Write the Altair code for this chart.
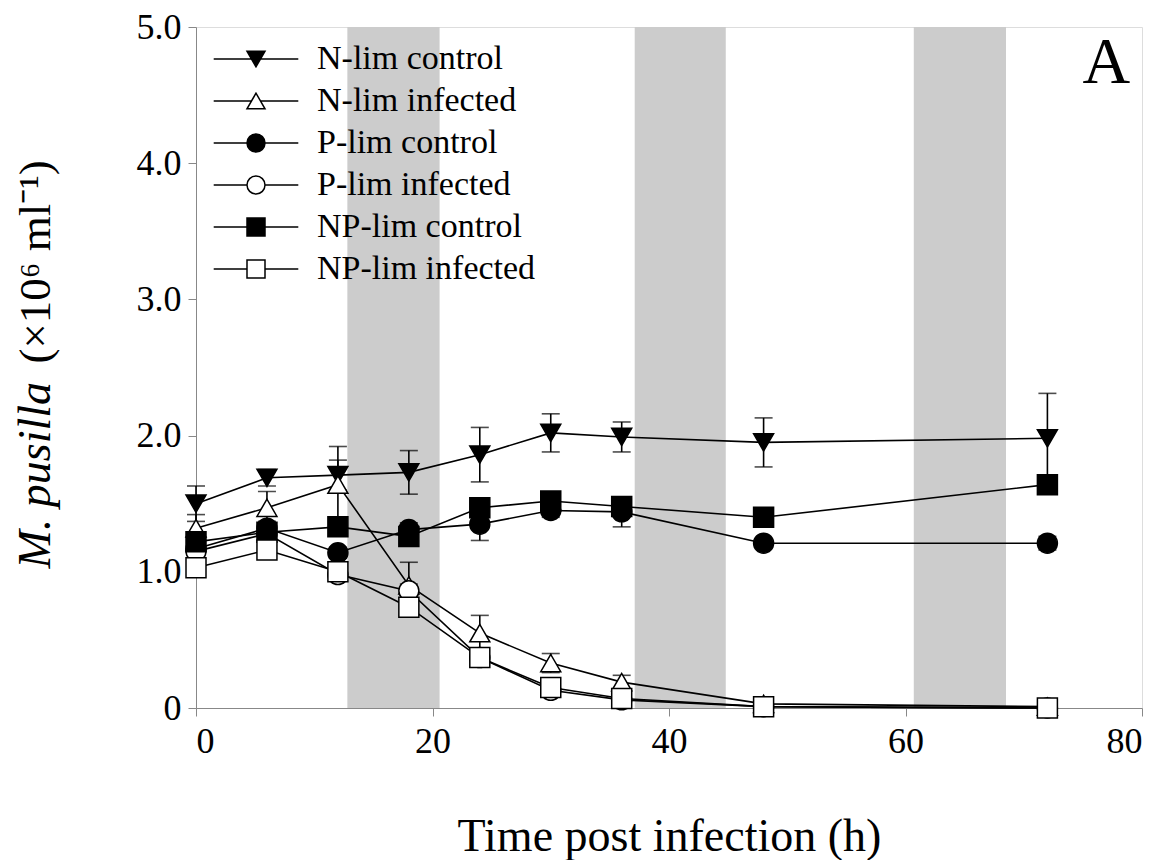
import altair as alt
import pandas as pd

# ---- data ----
times = [0, 6, 12, 18, 24, 30, 36, 48, 72]
series_names = ["N-lim control", "N-lim infected", "P-lim control",
                "P-lim infected", "NP-lim control", "NP-lim infected"]

n_ctrl = [1.50, 1.69, 1.71, 1.73, 1.86, 2.02, 1.99, 1.95, 1.98]
n_ctrl_err = [0.13, 0.06, 0.11, 0.16, 0.20, 0.14, 0.11, 0.18, 0.33]
n_inf = [1.32, 1.47, 1.64, 0.90, 0.55, 0.33, 0.19, 0.03, 0.01]
n_inf_err = [0.10, 0.12, 0.28, 0.17, 0.13, 0.07, 0.05, 0.01, 0.01]
p_ctrl = [1.17, 1.32, 1.14, 1.31, 1.35, 1.45, 1.44, 1.21, 1.21]
p_ctrl_err = [0.04, 0.05, 0.04, 0.05, 0.12, 0.05, 0.11, 0.03, 0.05]
p_inf = [1.15, 1.28, 0.98, 0.86, 0.37, 0.13, 0.06, 0.01, 0.00]
p_inf_err = [0.03, 0.05, 0.03, 0.05, 0.03, 0.02, 0.01, 0.00, 0.00]
np_ctrl = [1.22, 1.29, 1.33, 1.26, 1.47, 1.52, 1.48, 1.40, 1.64]
np_ctrl_err = [0.03, 0.04, 0.03, 0.04, 0.03, 0.03, 0.05, 0.02, 0.03]
np_inf = [1.03, 1.16, 1.00, 0.74, 0.37, 0.15, 0.07, 0.01, 0.00]
np_inf_err = [0.03, 0.06, 0.04, 0.03, 0.03, 0.02, 0.02, 0.00, 0.00]

dark_start = [12.8, 37.1, 60.7]
dark_end = [20.6, 44.8, 68.5]

panel_label = ["A"]

# ---- styling ----
plot_shapes = ["triangle-down", "triangle-up", "circle", "circle", "square", "square"]
plot_sizes = [400, 400, 330, 330, 290, 290]
fills = ["black", "white", "black", "white", "black", "white"]
legend_paths = [
    "M-4.7,0L4.7,0M0,0.866L-1,-0.866L1,-0.866Z",
    "M-4.7,0L-0.5,0M0.5,0L4.7,0M0,-0.866L-1,0.866L1,0.866Z",
    "M-4.7,0L-1,0M1,0L4.7,0M1,0A1,1,0,1,1,-1,0A1,1,0,1,1,1,0Z",
    "M-4.7,0L-1,0M1,0L4.7,0M1,0A1,1,0,1,1,-1,0A1,1,0,1,1,1,0Z",
    "M-4.7,0L-1,0M1,0L4.7,0M-1,-1L1,-1L1,1L-1,1Z",
    "M-4.7,0L-1,0M1,0L4.7,0M-1,-1L1,-1L1,1L-1,1Z",
]

vals = [n_ctrl, n_inf, p_ctrl, p_inf, np_ctrl, np_inf]
errs = [n_ctrl_err, n_inf_err, p_ctrl_err, p_inf_err, np_ctrl_err, np_inf_err]
rows = []
for name, v, e in zip(series_names, vals, errs):
    for t, y, s in zip(times, v, e):
        rows.append({"series": name, "label": name, "t": t, "y": y,
                     "lo": y - s, "hi": y + s, "err": s})
df = pd.DataFrame(rows)
bands = pd.DataFrame({"start": dark_start, "end": dark_end})
panel_df = pd.DataFrame({"panel": panel_label})

FONT = "Liberation Serif"
W, H = 946, 681

xscale = alt.Scale(domain=[0, 80], nice=False)
yscale = alt.Scale(domain=[0, 5], nice=False)

x_axis = alt.Axis(values=[0, 20, 40, 60, 80], title="Time post infection (h)",
                  titleFontSize=46, titleFont=FONT, titleFontWeight="normal",
                  titleY=142, titleBaseline="alphabetic",
                  labelFontSize=36, labelFont=FONT, labelPadding=8,
                  tickSize=8, grid=False)
y_axis_main = alt.Axis(values=[0, 1, 2, 3, 4, 5],
                       labelExpr="datum.value == 0 ? '0' : format(datum.value, '.1f')",
                       labelFontSize=36, labelFont=FONT, labelPadding=7,
                       tickSize=8, grid=False,
                       title="M. pusilla", titleFont=FONT, titleFontSize=46,
                       titleFontStyle="italic", titleFontWeight="normal",
                       titleAngle=270, titleAlign="left", titleBaseline="alphabetic",
                       titleX=-147, titleY=541)
y_axis_unit = alt.Axis(orient="right", labels=False, ticks=False, domain=False, grid=False,
                       title="(×10⁶ ml⁻¹)", titleFont=FONT, titleFontSize=45,
                       titleFontWeight="normal", titleAngle=270, titleAlign="left",
                       titleBaseline="alphabetic", titleX=-147 - W, titleY=336)

X = alt.X("t:Q", scale=xscale, axis=x_axis)

band_layer = alt.Chart(bands).mark_rect(color="#cccccc").encode(
    x=alt.X("start:Q", scale=xscale, axis=x_axis),
    x2="end:Q",
    y=alt.Y(datum=0, scale=yscale, axis=None),
    y2=alt.Y2(datum=5),
)

line_layer = alt.Chart(df).mark_line(color="black", strokeWidth=1.6).encode(
    x=X,
    y=alt.Y("y:Q", scale=yscale, axis=y_axis_main),
    detail="series:N",
)

err_df = df[df["err"] > 0]
rule_layer = alt.Chart(err_df).mark_rule(color="black", strokeWidth=1.6).encode(
    x=X,
    y=alt.Y("lo:Q", scale=yscale, axis=y_axis_unit),
    y2="hi:Q",
)
cap_lo = alt.Chart(err_df).mark_tick(color="black", orient="horizontal",
                                     size=18, thickness=1.6).encode(
    x=X, y=alt.Y("lo:Q", scale=yscale, axis=None))
cap_hi = alt.Chart(err_df).mark_tick(color="black", orient="horizontal",
                                     size=18, thickness=1.6).encode(
    x=X, y=alt.Y("hi:Q", scale=yscale, axis=None))

point_layer = alt.Chart(df).mark_point(stroke="black", strokeWidth=1.5, opacity=1).encode(
    x=X,
    y=alt.Y("y:Q", scale=yscale, axis=None),
    shape=alt.Shape("series:N", scale=alt.Scale(domain=series_names, range=plot_shapes), legend=None),
    fill=alt.Fill("series:N", scale=alt.Scale(domain=series_names, range=fills), legend=None),
    size=alt.Size("series:N", scale=alt.Scale(domain=series_names, range=plot_sizes), legend=None),
)

legend_spec = alt.Legend(title=None, orient="none", legendX=43, legendY=15,
                         labelFont=FONT, labelFontSize=34, labelLimit=500,
                         labelOffset=44, symbolSize=324, symbolStrokeWidth=1.5,
                         symbolStrokeColor="black", symbolOpacity=1,
                         rowPadding=8, padding=0)
legend_layer = alt.Chart(df).mark_point(strokeWidth=1.5, opacity=0).encode(
    x=X,
    y=alt.Y("y:Q", scale=yscale, axis=None),
    shape=alt.Shape("label:N", scale=alt.Scale(domain=series_names, range=legend_paths),
                    legend=legend_spec),
    fill=alt.Fill("label:N", scale=alt.Scale(domain=series_names, range=fills),
                  legend=legend_spec),
    stroke=alt.Stroke("label:N", scale=alt.Scale(domain=series_names, range=["black"] * 6),
                      legend=legend_spec),
)

panel_layer = alt.Chart(panel_df).mark_text(
    font=FONT, fontSize=66, color="black", align="right", baseline="alphabetic"
).encode(
    text="panel:N",
    x=alt.X(datum=79.0, scale=xscale, axis=x_axis),
    y=alt.Y(datum=4.59, scale=yscale, axis=None),
)

chart = alt.layer(
    band_layer, line_layer, rule_layer, cap_lo, cap_hi, point_layer, legend_layer, panel_layer
).resolve_axis(y="independent").resolve_scale(
    shape="independent", fill="independent", size="independent", stroke="independent"
).properties(
    width=W, height=H,
    autosize=alt.AutoSizeParams(type="none"),
    padding={"left": 196, "top": 27, "right": 20, "bottom": 152},
).configure_view(
    stroke="black", strokeWidth=1.5
).configure_axis(
    domainColor="black", domainWidth=1.5, tickColor="black", tickWidth=1.5,
    labelColor="black", titleColor="black"
).configure(background="white")

chart.save("out.html", embed_options={"renderer": "svg", "actions": False})
